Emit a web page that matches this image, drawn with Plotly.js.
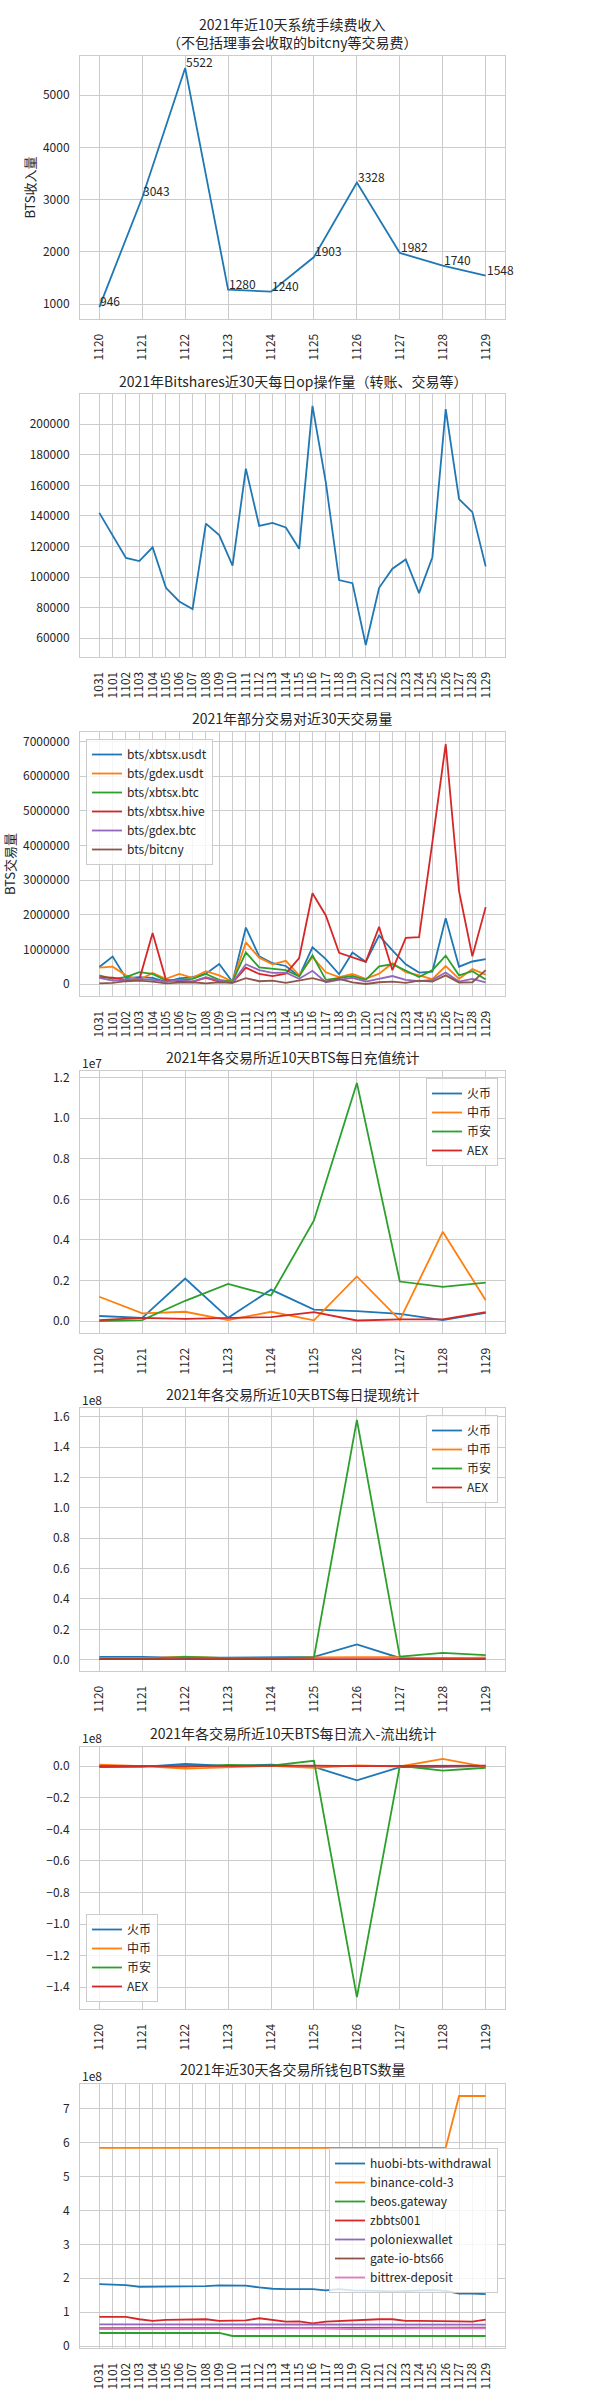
<!DOCTYPE html>
<html>
<head>
<meta charset="utf-8">
<script src="https://cdn.plot.ly/plotly-3.0.1.min.js"></script>
<style>html,body{margin:0;padding:0;background:#fff;}#chart{width:600px;height:2400px;}</style>
</head>
<body>
<div id="chart"></div>
<script>
// ---------------- DATA ----------------
const days10 = ['1120','1121','1122','1123','1124','1125','1126','1127','1128','1129'];
const days30 = ['1031','1101','1102','1103','1104','1105','1106','1107','1108','1109','1110','1111','1112','1113','1114','1115','1116','1117','1118','1119','1120','1121','1122','1123','1124','1125','1126','1127','1128','1129'];

// Chart 1: fee income (BTS)
const feeIncome = [946, 3043, 5522, 1280, 1240, 1903, 3328, 1982, 1740, 1548];

// Chart 2: daily op count
const opCount = [142000, 127000, 112500, 110500, 119500, 93000, 84000, 79000, 135000, 127500, 107500, 171000, 133500, 135500, 132500, 118500, 212000, 162000, 98000, 96000, 55500, 93000, 105500, 111500, 89500, 113000, 210000, 151000, 142500, 107000];

// Chart 3: trading volume per pair (BTS)
const pairNames = ['bts/xbtsx.usdt','bts/gdex.usdt','bts/xbtsx.btc','bts/xbtsx.hive','bts/gdex.btc','bts/bitcny'];
const volXbtsxUsdt = [490000, 790000, 170000, 200000, 180000, 60000, 160000, 200000, 300000, 580000, 60000, 1630000, 800000, 600000, 520000, 220000, 1060000, 720000, 280000, 910000, 640000, 1400000, 970000, 570000, 330000, 360000, 1900000, 500000, 650000, 720000];
const volGdexUsdt   = [470000, 500000, 250000, 120000, 320000, 150000, 290000, 180000, 370000, 250000, 70000, 1200000, 760000, 570000, 670000, 250000, 780000, 340000, 200000, 290000, 150000, 300000, 600000, 340000, 250000, 140000, 520000, 150000, 430000, 270000];
const volXbtsxBtc   = [250000, 150000, 200000, 340000, 290000, 100000, 120000, 150000, 290000, 120000, 70000, 910000, 480000, 440000, 400000, 220000, 830000, 120000, 180000, 230000, 120000, 510000, 570000, 380000, 200000, 400000, 820000, 250000, 370000, 130000];
const volXbtsxHive  = [200000, 180000, 120000, 120000, 1470000, 120000, 80000, 70000, 180000, 70000, 40000, 470000, 290000, 230000, 300000, 750000, 2620000, 1980000, 900000, 780000, 640000, 1650000, 400000, 1330000, 1350000, 4100000, 6930000, 2680000, 800000, 2220000];
const volGdexBtc    = [180000, 100000, 120000, 150000, 120000, 70000, 120000, 70000, 200000, 100000, 40000, 570000, 400000, 320000, 330000, 150000, 380000, 50000, 120000, 180000, 70000, 150000, 230000, 120000, 80000, 120000, 330000, 70000, 150000, 50000];
const volBitcny     = [20000, 30000, 80000, 100000, 70000, 20000, 40000, 50000, 20000, 50000, 30000, 170000, 80000, 100000, 30000, 100000, 170000, 70000, 150000, 50000, 0, 50000, 70000, 30000, 100000, 70000, 250000, 40000, 50000, 400000];

// Exchanges
const exchNames = ['火币','中币','币安','AEX'];
// Chart 4: deposits (units of 1e7 BTS)
const depHuobi   = [0.025, 0.016, 0.210, 0.016, 0.155, 0.057, 0.049, 0.036, 0.005, 0.040];
const depZb      = [0.120, 0.038, 0.046, 0.005, 0.046, 0.004, 0.220, 0.005, 0.440, 0.103];
const depBinance = [0.000, 0.005, 0.100, 0.183, 0.126, 0.496, 1.174, 0.195, 0.169, 0.190];
const depAex     = [0.005, 0.016, 0.011, 0.016, 0.020, 0.044, 0.003, 0.008, 0.008, 0.044];
// Chart 5: withdrawals (units of 1e8 BTS)
const wdHuobi   = [0.018, 0.018, 0.011, 0.012, 0.015, 0.018, 0.100, 0.011, 0.010, 0.010];
const wdZb      = [0.005, 0.008, 0.020, 0.010, 0.008, 0.015, 0.017, 0.016, 0.005, 0.015];
const wdBinance = [0.005, 0.005, 0.018, 0.010, 0.010, 0.015, 1.580, 0.020, 0.045, 0.030];
const wdAex     = [0.004, 0.004, 0.006, 0.006, 0.008, 0.005, 0.004, 0.004, 0.004, 0.004];
// Chart 6: net flow (units of 1e8 BTS)
const flowHuobi   = [-0.006, -0.004, 0.015, 0.002, 0.010, -0.004, -0.090, -0.006, -0.004, 0.000];
const flowZb      = [0.010, 0.000, -0.015, -0.005, 0.002, -0.010, 0.005, -0.002, 0.046, -0.004];
const flowBinance = [0.000, 0.000, -0.005, 0.008, 0.003, 0.034, -1.463, 0.002, -0.028, -0.010];
const flowAex     = [0.000, 0.001, 0.000, 0.001, 0.001, 0.003, 0.000, 0.000, 0.000, 0.003];

// Chart 7: wallet balances (units of 1e8 BTS)
const walletNames = ['huobi-bts-withdrawal','binance-cold-3','beos.gateway','zbbts001','poloniexwallet','gate-io-bts66','bittrex-deposit'];
const walHuobi    = [1.83,1.82,1.80,1.75,1.75,1.75,1.75,1.77,1.77,1.79,1.78,1.78,1.73,1.69,1.68,1.67,1.68,1.64,1.68,1.64,1.64,1.63,1.61,1.63,1.63,1.65,1.63,1.55,1.55,1.53];
const walBinance  = [5.85,5.85,5.85,5.85,5.85,5.85,5.85,5.85,5.85,5.85,5.85,5.85,5.85,5.85,5.85,5.85,5.85,5.85,5.85,5.85,5.85,5.85,5.85,5.85,5.85,5.85,5.85,7.38,7.38,7.38];
const walBeos     = [0.385,0.385,0.385,0.385,0.385,0.385,0.385,0.385,0.385,0.385,0.296,0.296,0.296,0.296,0.296,0.296,0.296,0.296,0.296,0.296,0.296,0.296,0.296,0.296,0.296,0.296,0.296,0.296,0.296,0.296];
const walZb       = [0.86,0.86,0.86,0.79,0.74,0.77,0.78,0.79,0.79,0.74,0.75,0.76,0.82,0.77,0.72,0.73,0.67,0.72,0.74,0.77,0.78,0.79,0.79,0.74,0.74,0.74,0.75,0.73,0.72,0.78];
const walPolo     = [0.64,0.64,0.64,0.64,0.64,0.64,0.64,0.64,0.64,0.64,0.64,0.64,0.64,0.64,0.64,0.64,0.64,0.64,0.64,0.64,0.64,0.64,0.64,0.64,0.64,0.64,0.64,0.63,0.63,0.63];
const walGate     = [0.53,0.53,0.53,0.53,0.53,0.53,0.53,0.53,0.53,0.53,0.53,0.54,0.54,0.54,0.54,0.54,0.55,0.55,0.55,0.54,0.54,0.54,0.54,0.54,0.54,0.54,0.54,0.54,0.54,0.54];
const walBittrex  = [0.50,0.50,0.50,0.50,0.50,0.50,0.50,0.50,0.50,0.50,0.50,0.52,0.52,0.52,0.52,0.53,0.53,0.52,0.51,0.50,0.50,0.50,0.50,0.52,0.52,0.53,0.52,0.52,0.52,0.52];

// ---------------- STYLE / LAYOUT ----------------
const C = ['#1f77b4','#ff7f0e','#2ca02c','#d62728','#9467bd','#8c564b','#e377c2'];
const FONT = '"Noto Sans CJK SC", "Noto Sans", sans-serif';
const TXT = '#262626';
const W = 600, H = 2400;
const fx = p => p / W;
const fy = p => 1 - p / H;
const LW = 1.8;

// plot boxes in px: [top, bottom]
const boxes = [[56,319],[394,657],[732,996],[1071,1333],[1408,1671],[1747,2009],[2084,2348]];
const left = 80, right = 505;

function pad(arrs){
  const all = [].concat(...arrs);
  const mn = Math.min(...all), mx = Math.max(...all), s = mx - mn;
  return [mn - 0.05*s, mx + 0.05*s];
}
function xr(n){ return [-(n-1)*0.05, (n-1)*1.05]; }

const traces = [];
function line(n, x, y, name, color, legend, show){
  traces.push({type:'scatter', mode:'lines', x:x, y:y, name:name,
    xaxis:'x'+(n===1?'':n), yaxis:'y'+(n===1?'':n),
    line:{color:color, width:LW}, showlegend:!!show, legend:legend, hoverinfo:'skip'});
}

line(1, days10, feeIncome, 'fee', C[0]);
line(2, days30, opCount, 'op', C[0]);
const vols = [volXbtsxUsdt, volGdexUsdt, volXbtsxBtc, volXbtsxHive, volGdexBtc, volBitcny];
vols.forEach((v,i)=> line(3, days30, v, pairNames[i], C[i], 'legend', true));
const deps = [depHuobi, depZb, depBinance, depAex];
deps.forEach((v,i)=> line(4, days10, v, exchNames[i], C[i], 'legend2', true));
const wds = [wdHuobi, wdZb, wdBinance, wdAex];
wds.forEach((v,i)=> line(5, days10, v, exchNames[i], C[i], 'legend3', true));
const flows = [flowHuobi, flowZb, flowBinance, flowAex];
flows.forEach((v,i)=> line(6, days10, v, exchNames[i], C[i], 'legend4', true));
const wals = [walHuobi, walBinance, walBeos, walZb, walPolo, walGate, walBittrex];
wals.forEach((v,i)=> line(7, days30, v, walletNames[i], C[i], 'legend5', true));

const layout = {
  width: W, height: H, margin:{l:0,r:0,t:0,b:0},
  paper_bgcolor:'#fff', plot_bgcolor:'#fff',
  font:{family:FONT, color:TXT, size:12},
  annotations: [], 
};

const yCfg = [
  {range:pad([feeIncome]), tickvals:[1000,2000,3000,4000,5000], fmt:'d', title:'BTS收入量'},
  {range:pad([opCount]), tickvals:[60000,80000,100000,120000,140000,160000,180000,200000], fmt:'d'},
  {range:pad(vols), tickvals:[0,1000000,2000000,3000000,4000000,5000000,6000000,7000000], fmt:'d', title:'BTS交易量'},
  {range:pad(deps), tickvals:[0,0.2,0.4,0.6,0.8,1.0,1.2], fmt:'.1f'},
  {range:pad(wds), tickvals:[0,0.2,0.4,0.6,0.8,1.0,1.2,1.4,1.6], fmt:'.1f'},
  {range:pad(flows), tickvals:[0,-0.2,-0.4,-0.6,-0.8,-1.0,-1.2,-1.4], fmt:'.1f'},
  {range:pad(wals), tickvals:[0,1,2,3,4,5,6,7], fmt:'d'},
];
const nCats = [10,30,30,10,10,10,30];
const cats = [days10, days30, days30, days10, days10, days10, days30];

for (let i=0;i<7;i++){
  const n = i+1, sfx = n===1?'':n;
  const [t,b] = boxes[i];
  layout['xaxis'+sfx] = {
    type:'category', domain:[fx(left), fx(right)], anchor:'y'+sfx,
    range: xr(nCats[i]), tickmode:'array', tickvals:cats[i], ticktext:cats[i],
    tickangle:-90, showgrid:true, gridcolor:'#cccccc', gridwidth:1,
    showline:true, linecolor:'#cccccc', linewidth:1, mirror:true, zeroline:false,
    ticks:'outside', ticklen:9, tickcolor:'rgba(0,0,0,0)',
    tickfont:{size:12, color:TXT, family:FONT}, fixedrange:true
  };
  const yc = yCfg[i];
  const ya = {
    domain:[fy(b), fy(t)], anchor:'x'+sfx, range:yc.range,
    tickmode:'array', tickvals:yc.tickvals, tickformat:yc.fmt,
    showgrid:true, gridcolor:'#cccccc', gridwidth:1,
    showline:true, linecolor:'#cccccc', linewidth:1, mirror:true, zeroline:false,
    ticks:'outside', ticklen:7, tickcolor:'rgba(0,0,0,0)',
    tickfont:{size:12, color:TXT, family:FONT}, fixedrange:true
  };
  if (yc.title) ya.title = {text:yc.title, font:{size:13, color:TXT, family:FONT}, standoff:4};
  layout['yaxis'+sfx] = ya;
}

// Titles
const titles = [
  ['2021年近10天系统手续费收入<br>（不包括理事会收取的bitcny等交易费）', 33.5],
  ['2021年Bitshares近30天每日op操作量（转账、交易等）', 381],
  ['2021年部分交易对近30天交易量', 718],
  ['2021年各交易所近10天BTS每日充值统计', 1057],
  ['2021年各交易所近10天BTS每日提现统计', 1394],
  ['2021年各交易所近10天BTS每日流入-流出统计', 1733],
  ['2021年近30天各交易所钱包BTS数量', 2069],
];
titles.forEach(([txt, py]) => layout.annotations.push({
  xref:'paper', yref:'paper', x:fx((left+right)/2), y:fy(py), xanchor:'center', yanchor:'middle',
  text:txt, showarrow:false, font:{size:14, color:TXT, family:FONT}
}));
// exponent labels
[['1e7',1062],['1e8',1399],['1e8',1737],['1e8',2075]].forEach(([txt,py]) => layout.annotations.push({
  xref:'paper', yref:'paper', x:fx(left), y:fy(py), xanchor:'left', yanchor:'middle',
  text:txt, showarrow:false, font:{size:12, color:TXT, family:FONT}
}));
// data labels for chart 1
feeIncome.forEach((v,i) => layout.annotations.push({
  xref:'x', yref:'y', x:i, y:v, xanchor:'left', yanchor:'bottom', yshift:-4, xshift:-1,
  text:String(v), showarrow:false, font:{size:12, color:TXT, family:FONT}
}));

const legBase = {bgcolor:'rgba(255,255,255,0.8)', bordercolor:'#cccccc', borderwidth:1,
  font:{size:12, color:TXT, family:FONT}, itemwidth:30, tracegroupgap:0};
layout.legend  = Object.assign({}, legBase, {x:fx(86),  y:fy(739),  xanchor:'left',  yanchor:'top'});
layout.legend2 = Object.assign({}, legBase, {x:fx(498), y:fy(1078), xanchor:'right', yanchor:'top'});
layout.legend3 = Object.assign({}, legBase, {x:fx(498), y:fy(1415), xanchor:'right', yanchor:'top'});
layout.legend4 = Object.assign({}, legBase, {x:fx(86),  y:fy(2002), xanchor:'left',  yanchor:'bottom'});
layout.legend5 = Object.assign({}, legBase, {x:fx(498), y:fy(2148), xanchor:'right', yanchor:'top'});

Plotly.newPlot('chart', traces, layout, {displayModeBar:false, staticPlot:true});
</script>
</body>
</html>
